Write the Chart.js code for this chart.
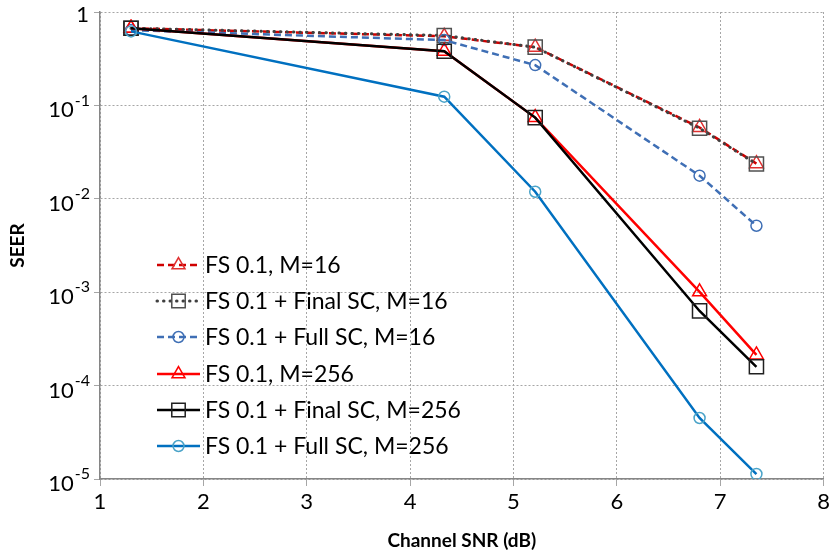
<!DOCTYPE html>
<html><head><meta charset="utf-8">
<script src="https://cdn.jsdelivr.net/npm/chart.js@4/dist/chart.umd.min.js"></script>
<style>html,body{margin:0;padding:0;background:#fff}#wrap{width:833px;height:554px}</style>
</head><body><div id="wrap"><canvas id="c" width="833" height="554"></canvas></div>
<script>
const snr = [1.30, 4.33, 5.21, 6.80, 7.35];
const fs16 = [0.67, 0.55, 0.42, 0.058, 0.0238];
const final16 = [0.67, 0.56, 0.42, 0.057, 0.0236];
const full16 = [0.64, 0.50, 0.27, 0.0177, 0.00515];
const fs256 = [0.67, 0.38, 0.074, 0.00101, 0.000213];
const final256 = [0.67, 0.38, 0.074, 0.00063, 0.000159];
const full256 = [0.62, 0.124, 0.0119, 0.000045, 0.0000113];
const seriesNames = ["FS 0.1, M=16","FS 0.1 + Final SC, M=16","FS 0.1 + Full SC, M=16","FS 0.1, M=256","FS 0.1 + Final SC, M=256","FS 0.1 + Full SC, M=256"];
const yTickExps = [0,-1,-2,-3,-4,-5];
const xTicks = [1,2,3,4,5,6,7,8];

const FONT = "Lato, 'Open Sans', sans-serif";
const styles = [
  {color:'#D00000', ptColor:'#E03030', dash:[7,4], style:'triangle', r:8, w:2.5},
  {color:'#404040', ptColor:'#505050', dash:[0.5,6], style:'rect', r:10, w:3, cap:'round'},
  {color:'#3F6FB5', ptColor:'#3F6FB5', dash:[7,4], style:'circle', r:5.5, w:2.5},
  {color:'#FF0000', ptColor:'#FF0000', dash:[], style:'triangle', r:8, w:2.5},
  {color:'#000000', ptColor:'#202020', dash:[], style:'rect', r:10, w:2.5},
  {color:'#0070C0', ptColor:'#4AA3C8', dash:[], style:'circle', r:5.5, w:2.5}
];
const seriesData = [fs16, final16, full16, fs256, final256, full256];

const datasets = seriesData.map((vals,i)=>({
  label: seriesNames[i],
  data: vals.map((v,j)=>({x:snr[j], y:v})),
  borderColor: styles[i].color,
  borderWidth: styles[i].w,
  borderDash: styles[i].dash,
  borderCapStyle: styles[i].cap || 'butt',
  pointStyle: styles[i].style,
  pointRadius: styles[i].r,
  pointBorderColor: styles[i].ptColor,
  pointBorderWidth: 1.5,
  pointBackgroundColor: 'rgba(0,0,0,0)',
  tension: 0,
  order: 5 - i
}));

function drawMarker(ctx, style, x, y, r, color){
  ctx.save();
  ctx.setLineDash([]);
  ctx.strokeStyle = color; ctx.lineWidth = 1.5;
  ctx.beginPath();
  if(style==='triangle'){
    const a = r*Math.sin(Math.PI/3);
    ctx.moveTo(x, y - r);
    ctx.lineTo(x + a, y + r/2);
    ctx.lineTo(x - a, y + r/2);
    ctx.closePath();
  } else if(style==='rect'){
    const s = Math.SQRT1_2*r;
    ctx.rect(x-s, y-s, 2*s, 2*s);
  } else {
    ctx.arc(x, y, r, 0, Math.PI*2);
  }
  ctx.stroke();
  ctx.restore();
}

const overlay = {
  id:'overlay',
  afterDraw(chart){
    const ctx = chart.ctx;
    const ys = chart.scales.y;
    ctx.save();
    ctx.fillStyle = '#000';
    ctx.textBaseline = 'middle';
    yTickExps.forEach(e=>{
      const py = ys.getPixelForValue(Math.pow(10,e));
      const right = 90;
      if(e===0){
        ctx.font = "22px " + FONT;
        ctx.textAlign = 'right';
        ctx.fillText('1', right - 1, py+3);
      } else {
        const sup = String(e);
        ctx.font = "16px " + FONT;
        const sw = ctx.measureText(sup).width;
        ctx.textAlign = 'right';
        ctx.fillText(sup, right, py-5);
        ctx.font = "22px " + FONT;
        ctx.fillText('10', right - sw - 1, py+5);
      }
    });
    ctx.restore();
    ctx.save();
    const x0 = 157, x1 = 200, xt = 205;
    const rowY = [265, 301, 337, 374, 410, 446];
    seriesNames.forEach((name,i)=>{
      const s = styles[i];
      const y = rowY[i];
      ctx.save();
      ctx.strokeStyle = s.color; ctx.lineWidth = s.w;
      ctx.setLineDash(s.dash); ctx.lineCap = s.cap || 'butt';
      ctx.beginPath(); ctx.moveTo(x0,y); ctx.lineTo(x1,y); ctx.stroke();
      ctx.restore();
      drawMarker(ctx, s.style, (x0+x1)/2, y, s.style==='rect'?9.5:(s.style==='triangle'?7.5:5.5), s.ptColor);
      ctx.fillStyle = '#000';
      ctx.font = "23px " + FONT;
      ctx.textAlign = 'left'; ctx.textBaseline = 'middle';
      ctx.fillText(name, xt, y+1);
    });
    ctx.restore();
  }
};

new Chart(document.getElementById('c'), {
  type:'line',
  data:{datasets},
  plugins:[overlay],
  options:{
    responsive:false,
    animation:false,
    devicePixelRatio:1,
    layout:{autoPadding:false, padding:{top:12, right:6, left:0, bottom:0}},
    plugins:{legend:{display:false}, tooltip:{enabled:false}},
    scales:{
      x:{
        type:'linear', min:1, max:8,
        afterBuildTicks(scale){ scale.ticks = xTicks.map(v=>({value:v})); },
        afterFit(scale){ scale.height = 75; },
        ticks:{color:'#000', font:{family:FONT, size:22}, padding:3, maxRotation:0, callback:v=>String(v)},
        grid:{color:'#A6A6A6', lineWidth:1, tickLength:7, tickColor:'#A6A6A6', tickBorderDash:[]},
        border:{color:'#868686', width:1.5, dash:[2,2]},
        title:{display:true, text:'Channel SNR (dB)', color:'#000', font:{family:FONT, size:19, weight:'bold'}, padding:{top:0,bottom:2}}
      },
      y:{
        type:'logarithmic', min:1e-5, max:1,
        afterBuildTicks(scale){ scale.ticks = yTickExps.map(e=>({value:Math.pow(10,e), major:true})); },
        afterFit(scale){ scale.width = 100; },
        ticks:{display:false},
        grid:{color:'#A6A6A6', lineWidth:1, tickLength:6, tickColor:'#A6A6A6', tickBorderDash:[]},
        border:{color:'#868686', width:1.5, dash:[2,2]},
        title:{display:true, text:'SEER', color:'#000', font:{family:FONT, size:19, weight:'bold'}, padding:{top:6,bottom:0}}
      }
    }
  }
});
</script></body></html>
